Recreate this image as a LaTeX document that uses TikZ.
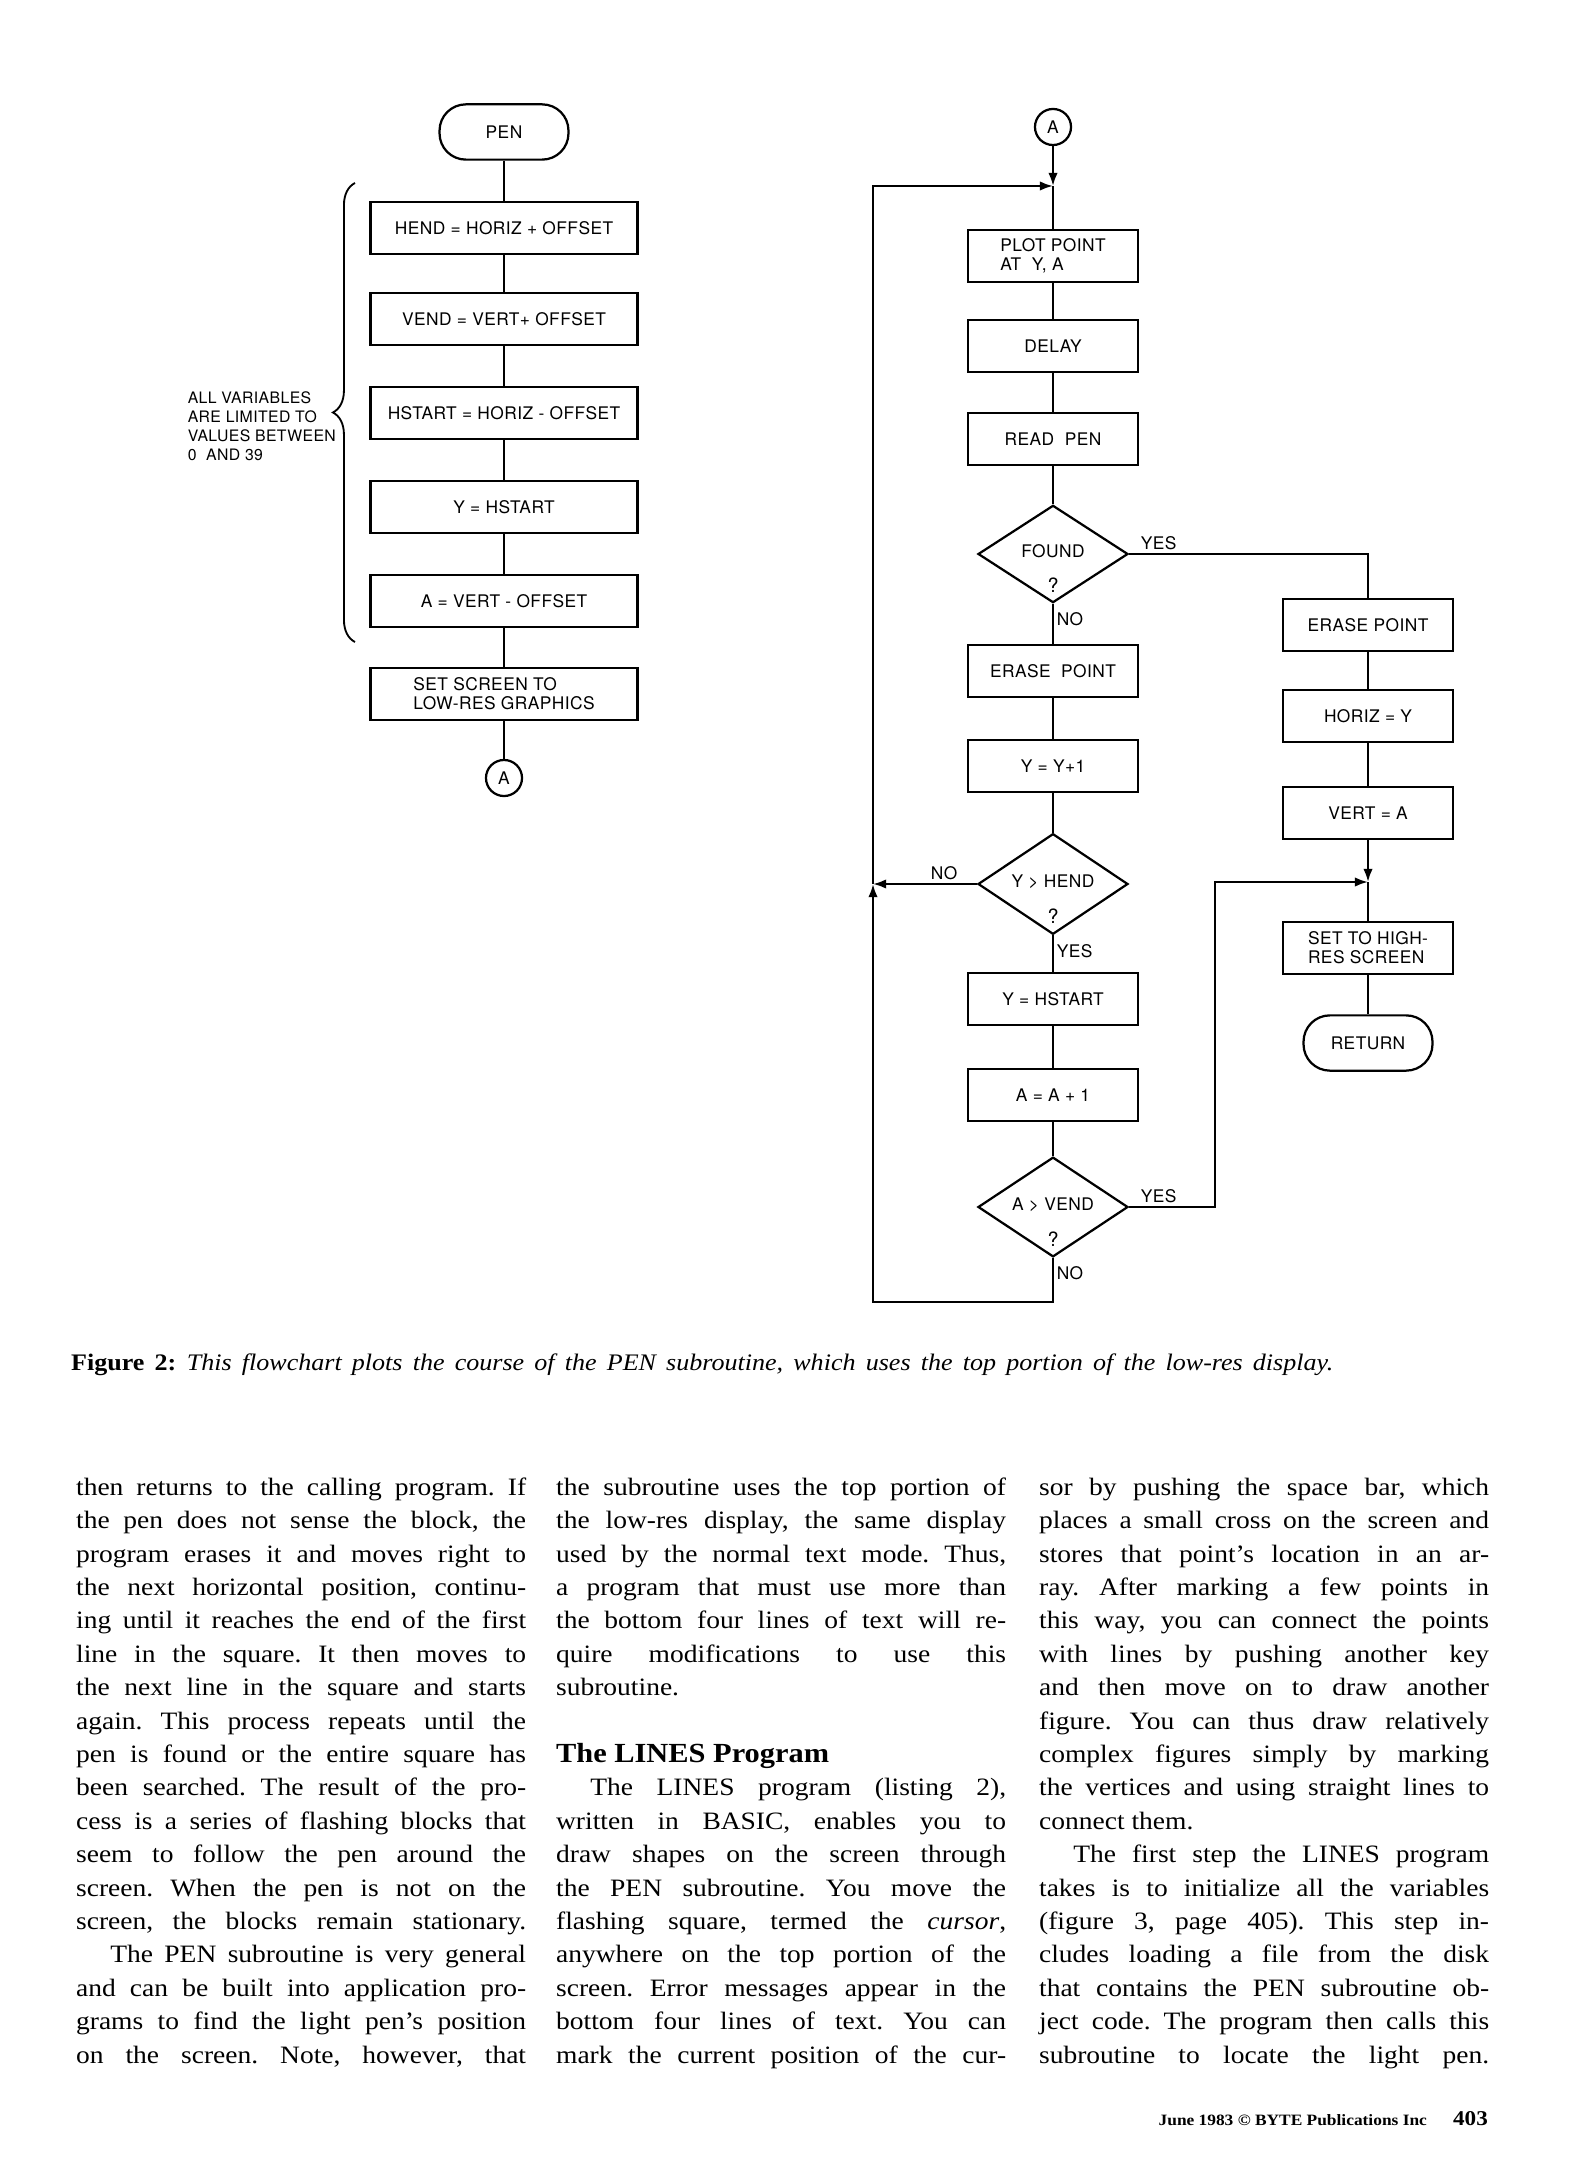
\documentclass[tikz,border=0pt]{standalone}
\usepackage{fontspec}
\setmainfont{Liberation Serif}[FakeStretch=1.1]
\newfontfamily\chartfont{TeX Gyre Heros}[LetterSpace=2.5]
\usetikzlibrary{arrows.meta,positioning,shapes.geometric,decorations.pathreplacing}

\newlength\colw
\setlength\colw{171pt}
\newcommand\jl[1]{\makebox[\colw][s]{#1}}
\newcommand\rl[1]{\makebox[\colw][l]{#1}}
\newcommand\pind{\hspace*{13pt}}
\frenchspacing

\begin{document}
\begin{tikzpicture}[x=0.38pt, y=-0.38pt, >={Latex[length=5pt,width=3.6pt]}, line width=0.85pt,
  lbl/.style={font=\chartfont\fontsize{6.6}{7.3}\selectfont, inner sep=1pt},
  box/.style={draw, lbl, align=left, minimum width=64.6pt, minimum height=19.5pt, inner sep=2pt},
  wbox/.style={box, minimum width=101.5pt},
  term/.style={draw, lbl, rounded corners=10pt, minimum width=49pt, minimum height=21pt},
  conn/.style={draw, circle, lbl, minimum size=13.7pt, inner sep=0pt},
  dec/.style={draw, diamond, lbl, minimum width=57pt, minimum height=37pt, inner sep=0pt},
  body/.style={align=left, inner sep=0pt, font=\fontsize{9.5}{12.69}\selectfont}
]
\path[use as bounding box] (0,0) rectangle (1569,2160);

% left chart: set-up
\node[term] (pen) at (504,132) {PEN};
\node[wbox] (hend) at (504,228) {HEND = HORIZ + OFFSET};
\node[wbox] (vend) at (504,319) {VEND = VERT+ OFFSET};
\node[wbox] (hst) at (504,413) {HSTART = HORIZ - OFFSET};
\node[wbox] (yhs) at (504,507) {Y = HSTART};
\node[wbox] (avo) at (504,601) {A = VERT - OFFSET};
\node[wbox] (setlo) at (504,694) {SET SCREEN TO\\LOW-RES GRAPHICS};
\node[conn] (cb) at (504,778) {A};
\foreach \a/\b in {pen/hend, hend/vend, vend/hst, hst/yhs, yhs/avo, avo/setlo, setlo/cb}
  \draw (\a) -- (\b);
\draw[decorate, decoration={brace, amplitude=8.4pt}, line width=0.7pt] (355,642) -- (355,183);
\node[lbl, font=\chartfont\fontsize{6}{7.2}\selectfont, align=left, anchor=west] (note) at (184,426) {ALL VARIABLES\\ARE LIMITED TO\\VALUES BETWEEN\\0 \ AND 39};

% right chart: main loop
\node[conn] (ca) at (1053,127) {A};
\coordinate (j1) at (1053,186);
\node[box] (plot) at (1053,256) {PLOT POINT\\AT \ Y, A};
\node[box] (delay) at (1053,346) {DELAY};
\node[box] (read) at (1053,439) {READ \ PEN};
\node[dec] (found) at (1053,554) {\raisebox{2pt}{FOUND}};
\node[box] (erase) at (1053,671) {ERASE \ POINT};
\node[box] (yy1) at (1053,766) {Y = Y+1};
\node[dec] (yhend) at (1053,884) {\raisebox{2pt}{Y > HEND}};
\node[box] (yhs2) at (1053,999) {Y = HSTART};
\node[box] (aa1) at (1053,1095) {A = A + 1};
\node[dec] (avend) at (1053,1207) {\raisebox{2pt}{A > VEND}};
\node[lbl, font=\chartfont\fontsize{7.5}{8}\selectfont, above=3pt of found.south] (foundq) {?};
\node[lbl, font=\chartfont\fontsize{7.5}{8}\selectfont, above=3pt of yhend.south] (yhendq) {?};
\node[lbl, font=\chartfont\fontsize{7.5}{8}\selectfont, above=3pt of avend.south] (avendq) {?};
\coordinate (lp) at (873,186);
\coordinate (lb) at (873,1302);
\draw[->] (ca) -- (j1);
\draw (j1) -- (plot);
\foreach \a/\b in {plot/delay, delay/read, read/found, found/erase, erase/yy1, yy1/yhend, yhend/yhs2, yhs2/aa1, aa1/avend}
  \draw (\a) -- (\b);
\draw[->] (yhend.west) -- (yhend.west -| lp);
\draw[->] (avend.south) |- (lb) -- (lb |- yhend.west);
\draw[->] (lb |- yhend.west) -- (lp) -- (j1);

% right chart: found branch
\node[box] (er2) at (1368,625) {ERASE POINT};
\node[box] (hz) at (1368,716) {HORIZ = Y};
\node[box] (vt) at (1368,813) {VERT = A};
\coordinate (j2) at (1368,882);
\coordinate (rc) at (1215,882);
\node[box] (sethi) at (1368,948) {SET TO HIGH-\\RES SCREEN};
\node[term] (ret) at (1368,1043) {RETURN};
\draw (found.east) -| (er2);
\draw (er2) -- (hz);
\draw (hz) -- (vt);
\draw[->] (vt) -- (j2);
\draw (j2) -- (sethi);
\draw (sethi) -- (ret);
\draw[->] (avend.east) -| (rc) -- (j2);

% yes / no
\node[lbl, anchor=south west] (fy) at ([xshift=3pt]found.east) {YES};
\node[lbl, anchor=north west] (fn) at ([yshift=-2pt]found.south) {NO};
\node[lbl, anchor=south east] (hn) at ([xshift=-6pt]yhend.west) {NO};
\node[lbl, anchor=north west] (hy) at ([yshift=-2pt]yhend.south) {YES};
\node[lbl, anchor=south west] (vy) at ([xshift=3pt]avend.east) {YES};
\node[lbl, anchor=north west] (vn) at ([yshift=-2pt]avend.south) {NO};

% caption
\node[anchor=base west, inner sep=0pt, font=\fontsize{9}{11}\selectfont] (cap) at (70,1370)
  {\makebox[479.6pt][s]{\textbf{Figure 2:}\hspace{4pt}\textit{This flowchart plots the course of the PEN subroutine, which uses the top portion of the low-res display.}}};

% body text (anchored on the last line)
\node[body, anchor=base west] (colA) at (75,2063) {%
\jl{then returns to the calling program. If}\\
\jl{the pen does not sense the block, the}\\
\jl{program erases it and moves right to}\\
\jl{the next horizontal position, continu-}\\
\jl{ing until it reaches the end of the first}\\
\jl{line in the square. It then moves to}\\
\jl{the next line in the square and starts}\\
\jl{again. This process repeats until the}\\
\jl{pen is found or the entire square has}\\
\jl{been searched. The result of the pro-}\\
\jl{cess is a series of flashing blocks that}\\
\jl{seem to follow the pen around the}\\
\jl{screen. When the pen is not on the}\\
\jl{screen, the blocks remain stationary.}\\
\jl{\pind The PEN subroutine is very general}\\
\jl{and can be built into application pro-}\\
\jl{grams to find the light pen’s position}\\
\jl{on the screen. Note, however, that}};
\node[body, anchor=base west] (colB) at (555,2063) {%
\jl{the subroutine uses the top portion of}\\
\jl{the low-res display, the same display}\\
\jl{used by the normal text mode. Thus,}\\
\jl{a program that must use more than}\\
\jl{the bottom four lines of text will re-}\\
\jl{quire modifications to use this}\\
\rl{subroutine.}\\
\rl{}\\
\rl{\fontsize{10.5}{12.69}\selectfont\bfseries The LINES Program}\\
\jl{\pind The LINES program (listing 2),}\\
\jl{written in BASIC, enables you to}\\
\jl{draw shapes on the screen through}\\
\jl{the PEN subroutine. You move the}\\
\jl{flashing square, termed the \textit{cursor},}\\
\jl{anywhere on the top portion of the}\\
\jl{screen. Error messages appear in the}\\
\jl{bottom four lines of text. You can}\\
\jl{mark the current position of the cur-}};
\node[body, anchor=base west] (colC) at (1038,2063) {%
\jl{sor by pushing the space bar, which}\\
\jl{places a small cross on the screen and}\\
\jl{stores that point’s location in an ar-}\\
\jl{ray. After marking a few points in}\\
\jl{this way, you can connect the points}\\
\jl{with lines by pushing another key}\\
\jl{and then move on to draw another}\\
\jl{figure. You can thus draw relatively}\\
\jl{complex figures simply by marking}\\
\jl{the vertices and using straight lines to}\\
\rl{connect them.}\\
\jl{\pind The first step the LINES program}\\
\jl{takes is to initialize all the variables}\\
\jl{(figure 3, page 405). This step in-}\\
\jl{cludes loading a file from the disk}\\
\jl{that contains the PEN subroutine ob-}\\
\jl{ject code. The program then calls this}\\
\jl{subroutine to locate the light pen.}};

% footer
\node[anchor=base east, inner sep=0pt, font=\fontsize{6}{7}\selectfont\bfseries] (foot) at (1428,2125) {June 1983 © BYTE Publications Inc};
\node[anchor=base east, inner sep=0pt, font=\fontsize{8}{9}\selectfont\bfseries] (pg) at (1489,2125) {403};
\end{tikzpicture}
\end{document}
